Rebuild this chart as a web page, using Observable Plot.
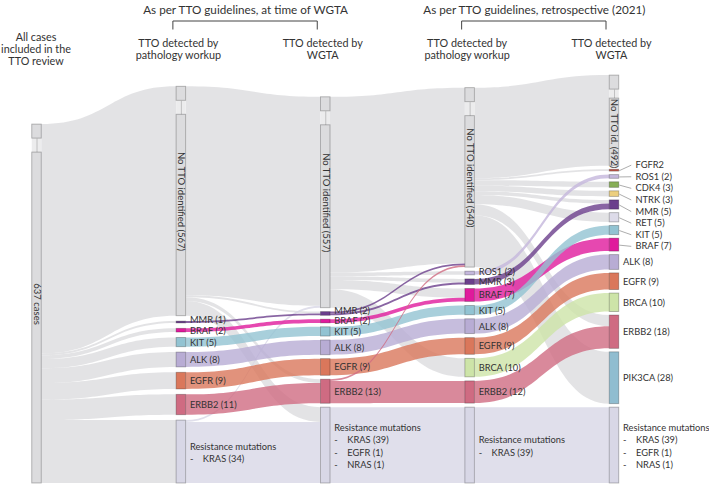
<!DOCTYPE html>
<html><head><meta charset="utf-8">
<script src="https://cdn.jsdelivr.net/npm/d3@7"></script>
<script src="https://cdn.jsdelivr.net/npm/@observablehq/plot@0.6"></script>
<style>html,body{margin:0;padding:0;background:#fff;}</style>
</head><body><div id="chart"></div>
<script>
// ---------------- data ----------------
const stageHeaders = ["All cases\nincluded in the\nTTO review", "TTO detected by\npathology workup", "TTO detected by\nWGTA", "TTO detected by\npathology workup", "TTO detected by\nWGTA"];
const groupTitles = ["As per TTO guidelines, at time of WGTA", "As per TTO guidelines, retrospective (2021)"];
const groupStages = [[1, 2], [3, 4]];

const stage0Nodes = ["ALL"];
const stage0Counts = [637];
const stage1Nodes = ["NONE", "MMR", "BRAF", "KIT", "ALK", "EGFR", "ERBB2", "RES"];
const stage1Counts = [567, 1, 2, 5, 8, 9, 11, 34];
const stage2Nodes = ["NONE", "MMR", "BRAF", "KIT", "ALK", "EGFR", "ERBB2", "RES"];
const stage2Counts = [557, 2, 2, 5, 8, 9, 13, 41];
const stage3Nodes = ["NONE", "ROS1", "MMR", "BRAF", "KIT", "ALK", "EGFR", "BRCA", "ERBB2", "RES"];
const stage3Counts = [540, 2, 3, 7, 5, 8, 9, 10, 12, 41];
const stage4Nodes = ["NONE", "FGFR2", "ROS1", "CDK4", "NTRK", "MMR", "RET", "KIT", "BRAF", "ALK", "EGFR", "BRCA", "ERBB2", "PIK3CA", "RES"];
const stage4Counts = [492, 1, 2, 3, 3, 5, 5, 5, 7, 8, 9, 10, 18, 28, 41];

const noTtoLabels = ["637 cases", "No TTO identified (567)", "No TTO identified (557)", "No TTO identified (540)", "No TTO id. (492)"];
const resistanceLines = [[], ["KRAS (34)"], ["KRAS (39)", "EGFR (1)", "NRAS (1)"], ["KRAS (39)"], ["KRAS (39)", "EGFR (1)", "NRAS (1)"]];
const countHidden = ["FGFR2"];

// flows: [source, target, cases]
const flows01 = [["ALL","NONE",567],["ALL","MMR",1],["ALL","BRAF",2],["ALL","KIT",5],["ALL","ALK",8],["ALL","EGFR",9],["ALL","ERBB2",11],["ALL","RES",34]];
const flows12 = [["NONE","NONE",556],["NONE","MMR",1],["NONE","ERBB2",2],["NONE","RES",8],["MMR","MMR",1],["BRAF","BRAF",2],["KIT","KIT",5],["ALK","ALK",8],["EGFR","EGFR",9],["ERBB2","ERBB2",11],["RES","NONE",1],["RES","RES",33]];
const flows23 = [["NONE","NONE",538],["NONE","ROS1",2],["NONE","MMR",2],["NONE","BRAF",5],["NONE","BRCA",10],["MMR","NONE",1],["MMR","MMR",1],["BRAF","BRAF",2],["KIT","KIT",5],["ALK","ALK",8],["EGFR","EGFR",9],["ERBB2","NONE",1],["ERBB2","ERBB2",12],["RES","RES",41]];
const flows34 = [["NONE","NONE",492],["NONE","FGFR2",1],["NONE","CDK4",3],["NONE","NTRK",3],["NONE","MMR",2],["NONE","RET",5],["NONE","ERBB2",6],["NONE","PIK3CA",28],["ROS1","ROS1",2],["MMR","MMR",3],["BRAF","BRAF",7],["KIT","KIT",5],["ALK","ALK",8],["EGFR","EGFR",9],["BRCA","BRCA",10],["ERBB2","ERBB2",12],["RES","RES",41]];

const categories = ["ALL","NONE","RES","MMR","BRAF","KIT","ALK","EGFR","ERBB2","ROS1","BRCA","FGFR2","CDK4","NTRK","RET","PIK3CA"];
const categoryColors = ["#dcdcde","#dcdcde","#d8d7e6","#6b3f8c","#e01a9c","#92c3d2","#b8acd4","#da775b","#cf6b82","#c4b7dc","#cde4a8","#c0574b","#87ae56","#eccf7f","#dddbe9","#90bdd0"];

// ---------------- layout ----------------
const S = 1.85;          // px per case
const BREAK = 443;       // cases hidden by the axis break on "no TTO" bands
const BASE = 483;        // px of the column baseline
const X0 = 36.5, X4 = 614;
const xUnit = (X4 - X0) / 4;
const HW = 4.75 / xUnit;
const GAP_PX = [0, 5.4, 3.9, 4.05, 3.5];
const BOX = 14 / S;
const toU = px => (BASE - px) / S;

const stagesData = [[stage0Nodes, stage0Counts],[stage1Nodes, stage1Counts],[stage2Nodes, stage2Counts],[stage3Nodes, stage3Counts],[stage4Nodes, stage4Counts]];
const transitions = [flows01, flows12, flows23, flows34];

const nodes = [];
stagesData.forEach(([keys, counts], s) => keys.forEach((k, i) => nodes.push({stage: s, key: k, count: counts[i], index: i, ins: [], outs: []})));
const nodeOf = (s, k) => nodes.find(n => n.stage === s && n.key === k);
const links = [];
transitions.forEach((list, s) => list.forEach(([a, b, v], j) => {
  const src = nodeOf(s, a), tgt = nodeOf(s + 1, b);
  const compressed = (a === "ALL" || a === "NONE") && b === "NONE";
  const l = {id: s + "-" + j, src, tgt, value: v, w: compressed ? v - BREAK : v};
  src.outs.push(l); tgt.ins.push(l); links.push(l);
}));
nodes.forEach(n => n.disp = d3.sum(n.stage === 0 ? n.outs : n.ins, l => l.w));
for (let s = 0; s < 5; s++) {
  let y = 0;
  const gap = GAP_PX[s] / S;
  nodes.filter(n => n.stage === s).sort((a, b) => b.index - a.index).forEach(n => {
    n.y0 = y; n.y1 = y + n.disp; y = n.y1 + gap;
  });
}
nodes.forEach(n => {
  let y = n.y1;
  n.outs.sort((a, b) => a.tgt.index - b.tgt.index).forEach(l => { l.sy1 = y; l.sy0 = y - l.w; y -= l.w; });
  y = n.y1;
  n.ins.sort((a, b) => a.src.index - b.src.index).forEach(l => { l.ty1 = y; l.ty0 = y - l.w; y -= l.w; });
});

const rank = l => (l.src.key === "ALL" || l.src.key === "NONE") ? 0 : l.src.key === "RES" ? 1 : 2;
const linkPts = [];
links.slice().sort((a, b) => rank(a) - rank(b)).forEach(l => {
  linkPts.push({id: l.id, cat: l.src.key, x: l.src.stage + HW, bot: l.sy0, top: l.sy1});
  linkPts.push({id: l.id, cat: l.src.key, x: l.tgt.stage - HW, bot: l.ty0, top: l.ty1});
});

const isNone = n => n.key === "ALL" || n.key === "NONE";
const rects = [], breaks = [];
nodes.forEach(n => {
  if (isNone(n)) {
    const brk = n.stage === 4 ? 9 / S : BOX;
    rects.push({stage: n.stage, cat: n.key, y0: n.y1 - BOX, y1: n.y1});
    rects.push({stage: n.stage, cat: n.key, y0: n.y0, y1: n.y1 - BOX - brk});
    breaks.push({stage: n.stage, y0: n.y1 - BOX - brk, y1: n.y1 - BOX});
    n.mainTop = n.y1 - BOX - brk;
  } else rects.push({stage: n.stage, cat: n.key, y0: n.y0, y1: n.y1});
});

// rotated labels for the "no TTO" nodes
const noneLabels = nodes.filter(isNone).map(n => {
  const text = noTtoLabels[n.stage];
  const half = (text.length * 4.0) / 2 + 3;
  const whole = (n.y0 + n.y1) / 2;
  const limit = n.mainTop - half / S;
  return {stage: n.stage, text, y: Math.min(whole, limit)};
});

// gene labels with a simple upward dodge; small stage-4 nodes use leader lines
const SEP = 10.5 / S, LSEP = 11.6 / S;
const geneLabels = [], leaderLabels = [];
for (let s = 1; s < 5; s++) {
  const list = nodes.filter(n => n.stage === s && !isNone(n) && n.key !== "RES");
  const label = n => countHidden.includes(n.key) ? n.key : `${n.key} (${n.count})`;
  const leader = list.filter(n => s === 4 && n.count <= 7);
  const plain = list.filter(n => !leader.includes(n)).sort((a, b) => b.index - a.index);
  let prev = -Infinity;
  plain.forEach(n => {
    const c = (n.y0 + n.y1) / 2;
    const u = Math.max(c, prev + SEP);
    prev = u;
    geneLabels.push({stage: s, text: label(n), y: u});
  });
  if (leader.length) {
    const mean = d3.mean(leader, n => (n.y0 + n.y1) / 2) - 2.6 / S;
    leader.sort((a, b) => a.index - b.index).forEach((n, k) => {
      const u = mean + ((leader.length - 1) / 2 - k) * LSEP;
      leaderLabels.push({stage: s, text: label(n), y: u, c: (n.y0 + n.y1) / 2});
    });
  }
}
const resLabels = nodes.filter(n => n.key === "RES").map(n => ({
  stage: n.stage, y: (n.y0 + n.y1) / 2,
  text: "Resistance mutations\n" + resistanceLines[n.stage].map(t => "-\u00a0\u00a0\u00a0\u00a0" + t).join("\n")
}));

// header bracket pieces
const bTop = toU(20.5), bBot = toU(29);
const brackets = groupStages.flatMap(([a, b]) => [
  {x1: a, x2: b, y1: bTop, y2: bTop}, {x1: a, x2: a, y1: bTop, y2: bBot}, {x1: b, x2: b, y1: bTop, y2: bBot}
]);

const chart = Plot.plot({
  width: 709, height: 486, margin: 0,
  x: {domain: [0, 4], range: [X0, X4], axis: null},
  y: {domain: [0, BASE / S], range: [BASE, 0], axis: null},
  color: {domain: categories, range: categoryColors},
  style: {fontFamily: "Lato, 'Open Sans', sans-serif", background: "#fff", color: "#333"},
  marks: [
    Plot.area(linkPts, {x1: "x", y1: "bot", y2: "top", z: "id", fill: "cat", fillOpacity: 0.8, curve: "bump-x"}),
    Plot.rect(breaks, {x1: d => d.stage - HW, x2: d => d.stage + HW, y1: "y0", y2: "y1", fill: "#ececed"}),
    Plot.link(breaks, {x1: "stage", x2: "stage", y1: "y0", y2: "y1", stroke: "#b5b5b5", strokeWidth: 0.8}),
    Plot.rect(rects, {x1: d => d.stage - HW, x2: d => d.stage + HW, y1: "y0", y2: "y1", fill: "cat", stroke: "#000", strokeOpacity: 0.28, strokeWidth: 0.9}),
    Plot.text(noneLabels, {x: "stage", y: "y", text: "text", rotate: 90, fontSize: 9.5, fill: "#333"}),
    Plot.text(geneLabels, {x: "stage", y: "y", text: "text", textAnchor: "start", dx: 8.5, fontSize: 9.3, fill: "#333"}),
    Plot.link(leaderLabels, {x1: d => d.stage + HW, y1: "c", x2: d => d.stage + HW + 12 / xUnit, y2: "y", stroke: "#8a8a8a", strokeWidth: 0.7}),
    Plot.text(leaderLabels, {x: "stage", y: "y", text: "text", textAnchor: "start", dx: 21, fontSize: 9.3, fill: "#333"}),
    Plot.text(resLabels, {x: "stage", y: "y", text: "text", textAnchor: "start", dx: 8.5, fontSize: 9.3, lineHeight: 1.35, fill: "#333"}),
    Plot.text(stageHeaders.slice(0, 1), {x: (d, i) => i, text: d => d, frameAnchor: "top", lineAnchor: "top", dy: 32, dx: -1, fontSize: 10.8, lineHeight: 1.12, fill: "#333"}),
    Plot.text(stageHeaders.slice(1), {x: (d, i) => i + 1, text: d => d, frameAnchor: "top", lineAnchor: "top", dy: 38, dx: -3, fontSize: 10.8, lineHeight: 1.12, fill: "#333"}),
    Plot.text(groupTitles, {x: (d, i) => (groupStages[i][0] + groupStages[i][1]) / 2, text: d => d, frameAnchor: "top", lineAnchor: "top", dy: 5, dx: -8, fontSize: 11.7, fill: "#333"}),
    Plot.link(brackets, {x1: "x1", x2: "x2", y1: "y1", y2: "y2", dx: -8.5, stroke: "#444", strokeWidth: 1})
  ]
});
document.getElementById("chart").appendChild(chart);
</script>
</body></html>
